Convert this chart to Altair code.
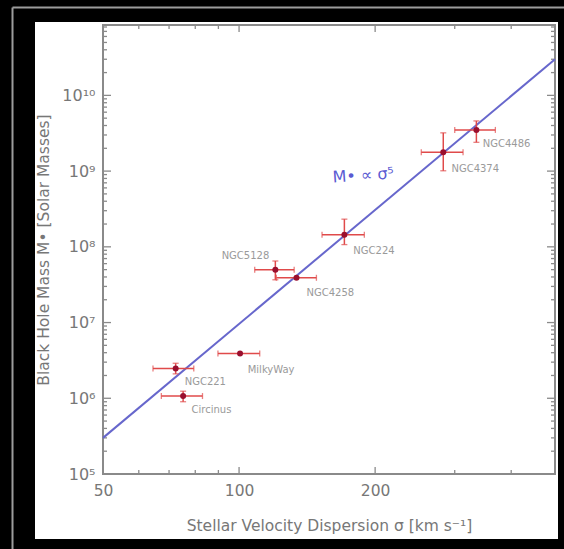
import json
import altair as alt
import pandas as pd

# ---------------- data ----------------
names = ["NGC221", "Circinus", "MilkyWay", "NGC5128", "NGC4258", "NGC224", "NGC4374", "NGC4486"]
sigma = [72.4, 75.2, 100.5, 120.3, 134.0, 171.0, 283.0, 335.0]
sigma_lo = [64.5, 67.3, 89.8, 108.3, 120.9, 152.6, 253.0, 300.0]
sigma_hi = [79.4, 83.0, 111.1, 132.4, 148.3, 189.3, 313.0, 369.0]
mass = [2.47e6, 1.07e6, 3.9e6, 4.98e7, 3.9e7, 1.44e8, 1.77e9, 3.5e9]
mass_lo = [2.1e6, 0.90e6, 3.9e6, 3.67e7, 3.9e7, 1.07e8, 1.01e9, 2.4e9]
mass_hi = [2.9e6, 1.24e6, 3.9e6, 6.5e7, 3.9e7, 2.32e8, 3.2e9, 4.6e9]
label_sigma = [75.8, 78.5, 104.5, 91.5, 141.0, 179.0, 295.0, 346.0]
label_mass = [1.63e6, 6.97e5, 2.35e6, 7.68e7, 2.43e7, 8.9e7, 1.08e9, 2.3e9]

fit_sigma = [50, 500]
fit_mass = [3.0e5, 3.0e10]
fit_label = ["M\u2022 \u221d \u03c3\u2075"]
fit_label_sigma = [161.0]
fit_label_mass = [8.2e8]

x_domain = [50, 500]
y_domain = [1e5, 8.5e10]
x_tick_labels = [50, 100, 200]
x_major_ticks = [100, 200]
x_minor_ticks = [60, 70, 80, 90, 300, 400]
y_major_ticks = [1e5, 1e6, 1e7, 1e8, 1e9, 1e10]
y_tick_labels = ["10\u2075", "10\u2076", "10\u2077", "10\u2078", "10\u2079", "10\u00b9\u2070"]
y_minor_ticks = [m * d for d in [1e5, 1e6, 1e7, 1e8, 1e9, 1e10] for m in range(2, 10)
                 if m * d <= y_domain[1]]

x_title = "Stellar Velocity Dispersion \u03c3 [km s\u207b\u00b9]"
y_title = "Black Hole Mass M\u2022 [Solar Masses]"

# ---------------- styling ----------------
W, H = 452, 449
FONT = "DejaVu Sans"
TXT = "#777777"
AX = "#8a8a8a"
RED = "#e04a4a"
DARK = "#9a0f2e"
BLUE = "#6767cc"

df = pd.DataFrame(dict(name=names, sigma=sigma, sigma_lo=sigma_lo, sigma_hi=sigma_hi,
                       mass=mass, mass_lo=mass_lo, mass_hi=mass_hi,
                       lsig=label_sigma, lmass=label_mass))
fit_df = pd.DataFrame(dict(sigma=fit_sigma, mass=fit_mass))
ann_df = pd.DataFrame(dict(text=fit_label, sigma=fit_label_sigma, mass=fit_label_mass))
one = alt.Data(values=[{"a": 1}])

xs = alt.Scale(type="log", domain=x_domain, nice=False)
ys = alt.Scale(type="log", domain=y_domain, nice=False)

x_axis = alt.Axis(values=x_tick_labels, format="d", title=x_title, labelPadding=9,
                  titlePadding=20, labelFontSize=15.5, titleFontSize=15.5, zindex=2,
                  domain=False, ticks=False, grid=False, labelFlush=False,
                  labelOverlap=False)
y_axis = alt.Axis(values=y_major_ticks,
                  labelExpr=json.dumps(y_tick_labels) + "[round(log(datum.value)/LN10) - 5]",
                  title=y_title, labelPadding=8, titlePadding=10,
                  labelFontSize=16, titleFontSize=15.5, zindex=2,
                  domain=False, ticks=False, grid=False, labelFlush=False,
                  labelOverlap=False)


def X(field):
    return alt.X(field, type="quantitative", scale=xs, axis=x_axis)


def Y(field):
    return alt.Y(field, type="quantitative", scale=ys, axis=y_axis)


# decorations outside the plot
white_bg = alt.Chart(one).mark_rect(fill="white").encode(
    x=alt.value(-68), x2=alt.value(455), y=alt.value(-3), y2=alt.value(514))
frame_left = alt.Chart(one).mark_rule(color="#9c9c9c", strokeWidth=2).encode(
    x=alt.value(-90.5), y=alt.value(-17.5), y2=alt.value(524))
frame_top = alt.Chart(one).mark_rule(color="#9c9c9c", strokeWidth=2).encode(
    x=alt.value(-90.5), x2=alt.value(461), y=alt.value(-17.5))

# inward ticks
def xticks(vals, length):
    d = pd.DataFrame({"sigma": vals})
    bot = alt.Chart(d).mark_rule(color=AX, strokeWidth=1.3).encode(
        x=X("sigma"), y=alt.value(H), y2=alt.value(H - length))
    top = alt.Chart(d).mark_rule(color=AX, strokeWidth=1.3).encode(
        x=X("sigma"), y=alt.value(0), y2=alt.value(length))
    return [bot, top]


def yticks(vals, length):
    d = pd.DataFrame({"mass": vals})
    left = alt.Chart(d).mark_rule(color=AX, strokeWidth=1.3).encode(
        y=Y("mass"), x=alt.value(0), x2=alt.value(length))
    right = alt.Chart(d).mark_rule(color=AX, strokeWidth=1.3).encode(
        y=Y("mass"), x=alt.value(W), x2=alt.value(W - length))
    return [left, right]


ticks = xticks(x_major_ticks, 7) + xticks(x_minor_ticks, 4) + \
    yticks(y_major_ticks, 8) + yticks(y_minor_ticks, 4)

box = alt.Chart(one).mark_rect(filled=False, stroke=AX, strokeWidth=2).encode(
    x=alt.value(0), x2=alt.value(W), y=alt.value(0), y2=alt.value(H))

fit = alt.Chart(fit_df).mark_line(color=BLUE, strokeWidth=2).encode(
    x=X("sigma"), y=Y("mass"))

base = alt.Chart(df)
hbar = base.mark_rule(color=RED, strokeWidth=1.5).encode(
    x=X("sigma_lo"), x2="sigma_hi", y=Y("mass"))
vbar = base.transform_filter("datum.mass_lo < datum.mass_hi").mark_rule(
    color=RED, strokeWidth=1.5).encode(x=X("sigma"), y=Y("mass_lo"), y2="mass_hi")
hcap = base.transform_fold(["sigma_lo", "sigma_hi"], as_=["end", "sv"]).mark_tick(
    color=RED, orient="vertical", size=6, thickness=1.3).encode(x=X("sv"), y=Y("mass"))
vcap = base.transform_filter("datum.mass_lo < datum.mass_hi").transform_fold(
    ["mass_lo", "mass_hi"], as_=["end", "mv"]).mark_tick(
    color=RED, orient="horizontal", size=6, thickness=1.3).encode(x=X("sigma"), y=Y("mv"))
pts = base.mark_circle(color=DARK, size=36, opacity=1).encode(x=X("sigma"), y=Y("mass"))
labels = base.mark_text(align="left", baseline="middle", fontSize=10, color="#9a9a9a",
                        font=FONT).encode(x=X("lsig"), y=Y("lmass"), text="name")
ann = alt.Chart(ann_df).mark_text(align="left", baseline="middle", fontSize=16,
                                  color="#5a5ad2", font=FONT, angle=356).encode(
    x=X("sigma"), y=Y("mass"), text="text")

chart = alt.layer(
    white_bg, frame_left, frame_top, *ticks, box, fit, hbar, vbar, hcap, vcap, pts, labels, ann
).properties(
    width=W, height=H, background="black",
    padding={"left": 103, "top": 25, "right": 9, "bottom": 75},
    autosize=alt.AutoSizeParams(type="none"),
).configure_view(stroke=None).configure_axis(
    labelColor=TXT, titleColor=TXT, labelFont=FONT, titleFont=FONT,
    titleFontWeight="normal",
)

chart.save("out.html", embed_options={"renderer": "svg", "actions": False})
